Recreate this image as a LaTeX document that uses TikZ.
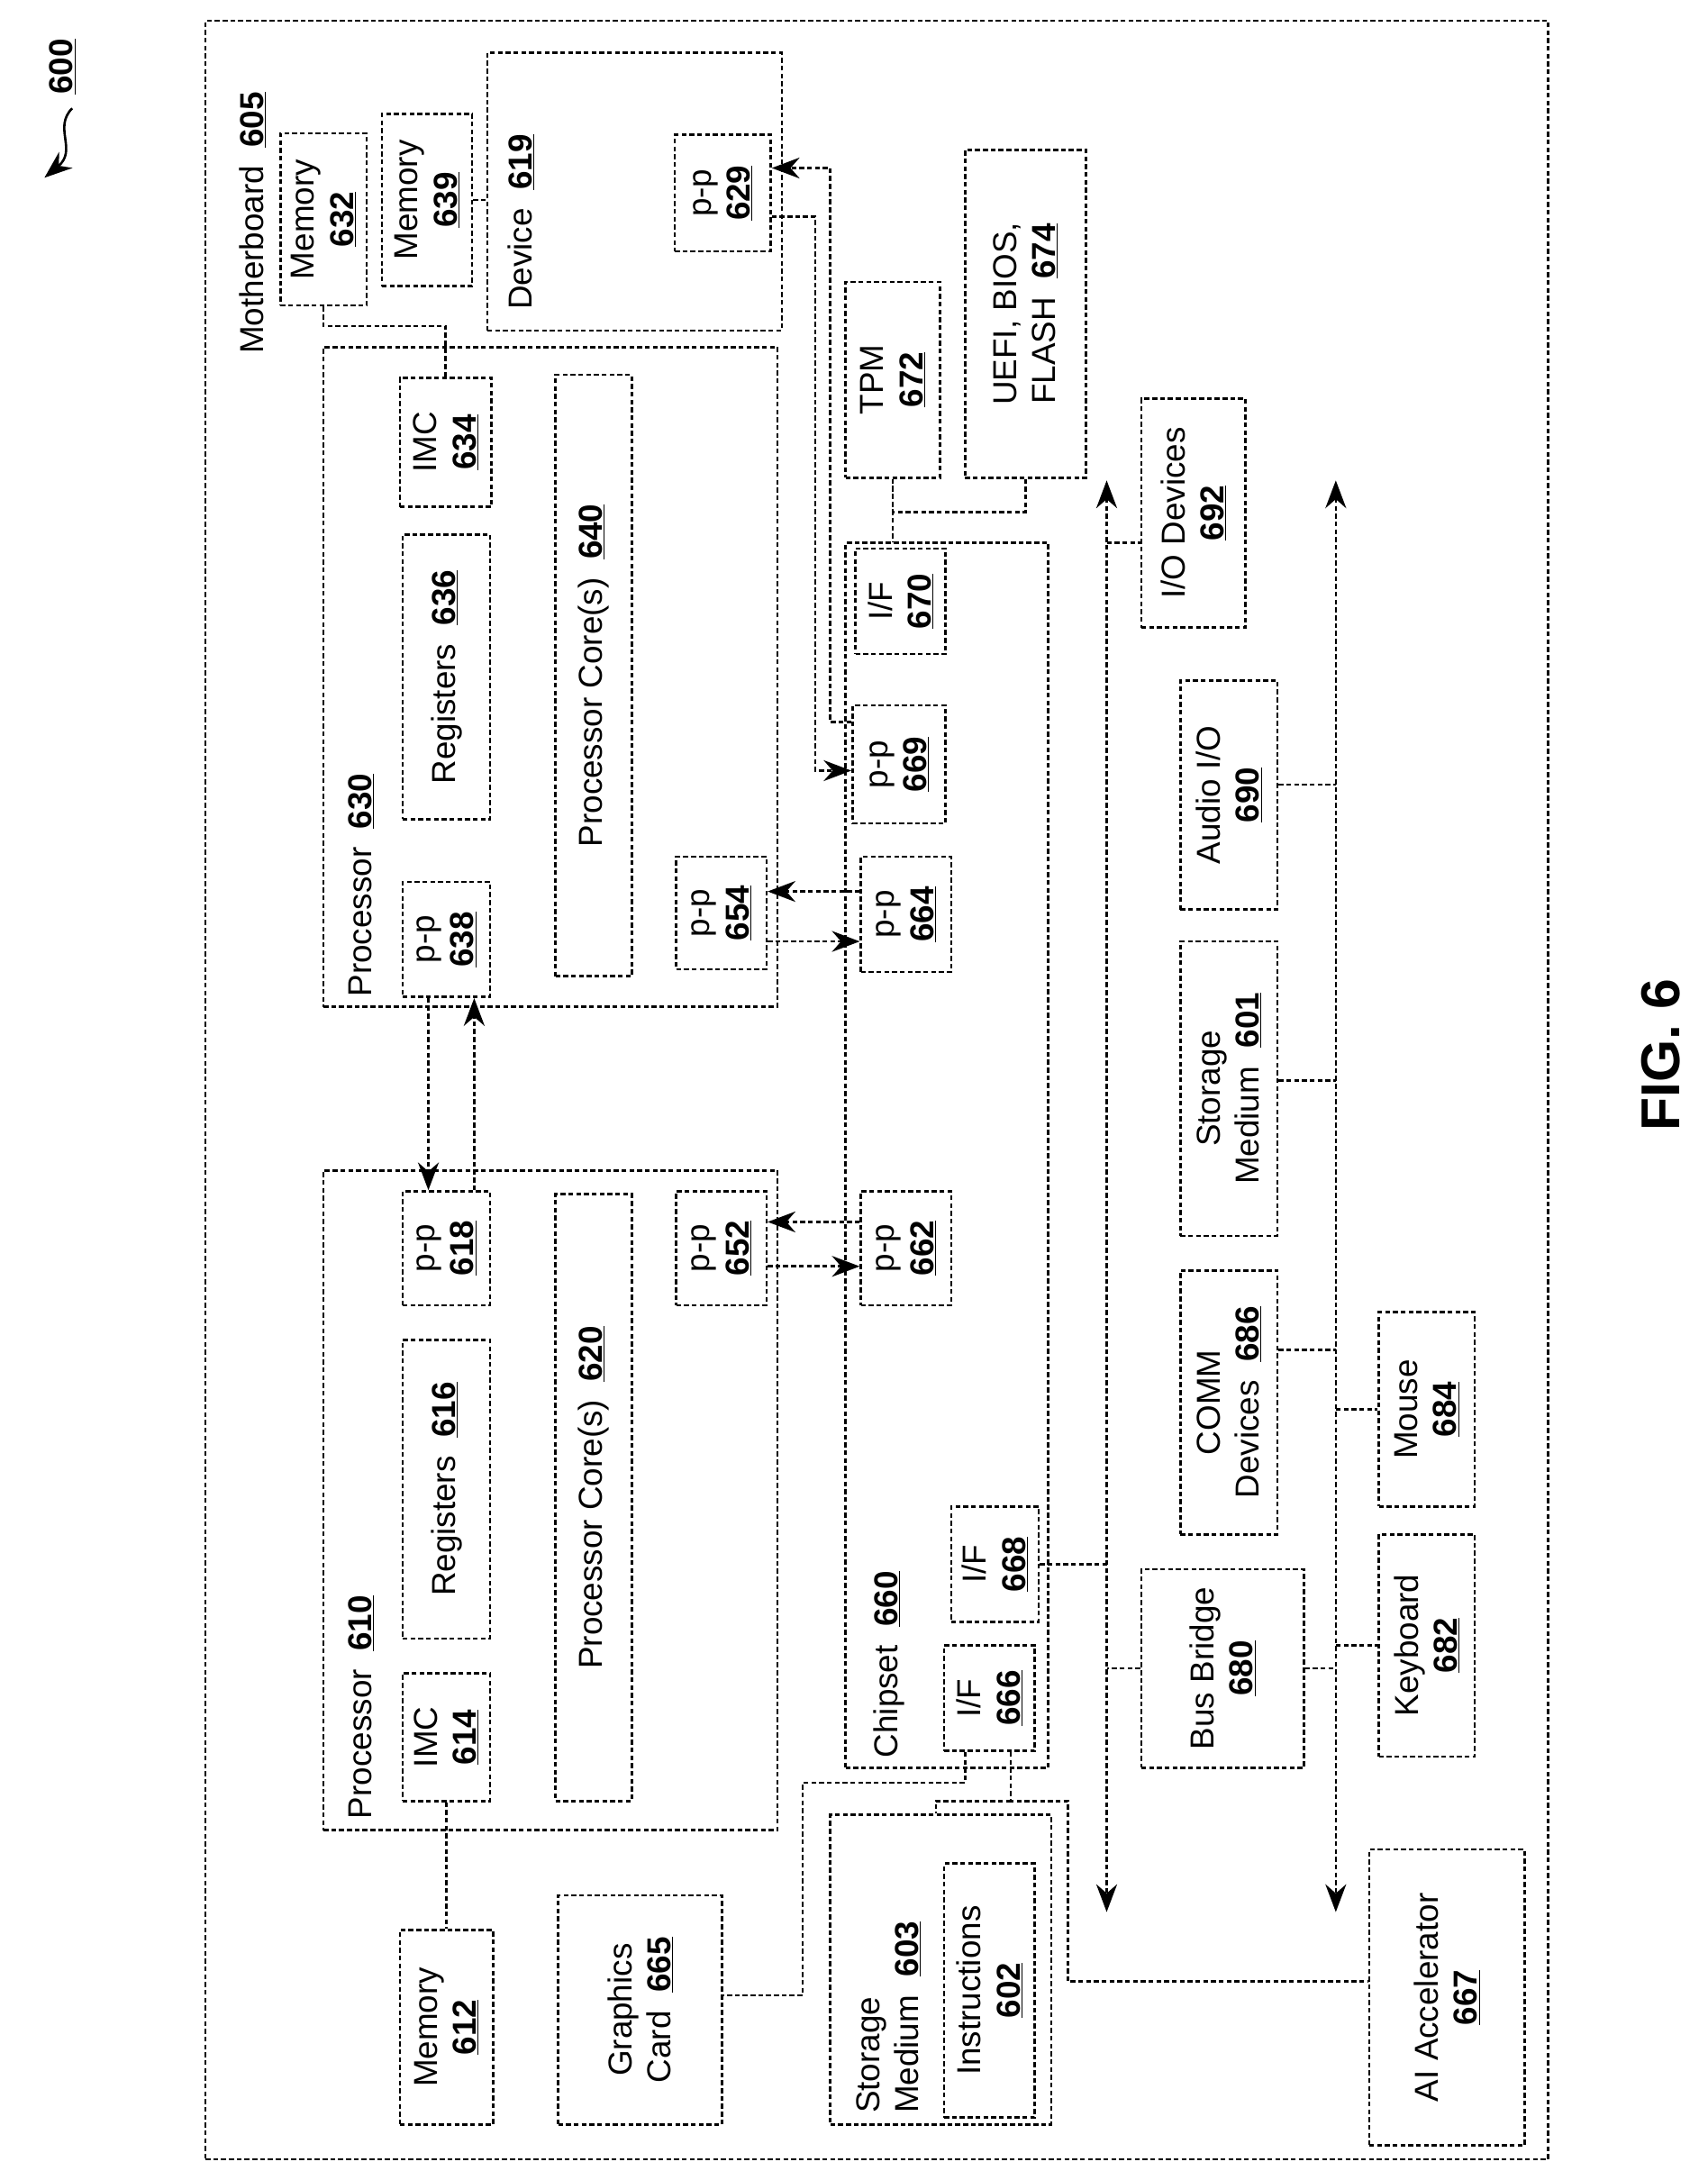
\documentclass[tikz,border=0pt]{standalone}
\usepackage{fontspec}
\setmainfont{Liberation Sans}
\usetikzlibrary{arrows.meta,calc}
\newcommand\un[1]{\underline{\textbf{#1}}}
\tikzset{
  box/.style={draw,dash pattern=on 5pt off 3pt,line width=2.4pt,inner sep=0pt,rectangle},
  conn/.style={draw,dash pattern=on 5pt off 3pt,line width=2.4pt},
  arr/.style={conn,-{Stealth[length=1cm,width=0.75cm]}},
  darr/.style={conn,{Stealth[length=1cm,width=0.75cm]}-{Stealth[length=1cm,width=0.75cm]}},
  txt/.style={rotate=90,align=center,inner sep=0pt,font=\fontsize{34}{40}\selectfont},
  lab/.style={rotate=90,anchor=west,align=left,inner sep=0pt,font=\fontsize{34}{40}\selectfont}
}
\newcommand\bx[6]{\node[box,minimum width={(#4-#2)*0.05cm},minimum height={(#5-#3)*0.05cm}] (#1) at ({(#2+#4)/2},{(#3+#5)/2}) {};}
\newcommand\bt[7]{\bx{#1}{#2}{#3}{#4}{#5}{}\node[txt] at (#1.center) {#6};}
\begin{document}
\begin{tikzpicture}[x=0.05cm,y=-0.05cm]
\useasboundingbox (0,0) rectangle (1230,1570);
\bx{mb}{148}{15}{1115}{1555}{}
\node[lab] (mbl) at (182,255) {Motherboard\ \ \un{605}};
\bt{m632}{202}{96}{264}{220}{Memory\\\un{632}}{}
\bt{m639}{275}{82}{340}{206}{Memory\\\un{639}}{}
\bx{dev619}{351}{38}{563}{238}{}
\node[txt] (devl) at (375,160) {Device\ \ \un{619}};
\bt{pp629}{486}{97}{555}{181}{p-p\\\un{629}}{}
\bx{proc630}{233}{250}{560}{725}{}
\node[lab] (p630l) at (260,718) {Processor\ \ \un{630}};
\bt{imc634}{288}{272}{354}{365}{IMC\\\un{634}}{}
\bt{reg636}{290}{385}{353}{590}{Registers\ \ \un{636}}{}
\bt{pp638}{290}{635}{353}{718}{p-p\\\un{638}}{}
\bt{core640}{400}{270}{455}{703}{Processor Core(s)\ \ \un{640}}{}
\bt{pp654}{487}{617}{552}{698}{p-p\\\un{654}}{}
\bx{proc610}{233}{843}{560}{1318}{}
\node[lab] (p610l) at (260,1310) {Processor\ \ \un{610}};
\bt{imc614}{290}{1205}{353}{1297}{IMC\\\un{614}}{}
\bt{reg616}{290}{965}{353}{1180}{Registers\ \ \un{616}}{}
\bt{pp618}{290}{858}{353}{940}{p-p\\\un{618}}{}
\bt{core620}{400}{860}{455}{1297}{Processor Core(s)\ \ \un{620}}{}
\bt{pp652}{487}{858}{552}{940}{p-p\\\un{652}}{}
\bx{chip660}{609}{391}{755}{1273}{}
\node[lab] (chipl) at (640,1266) {Chipset\ \ \un{660}};
\bt{pp662}{620}{858}{685}{940}{p-p\\\un{662}}{}
\bt{pp664}{620}{617}{685}{700}{p-p\\\un{664}}{}
\bt{pp669}{614}{508}{681}{593}{p-p\\\un{669}}{}
\bt{if670}{616}{395}{681}{471}{I/F\\\un{670}}{}
\bt{if668}{685}{1085}{748}{1168}{I/F\\\un{668}}{}
\bt{if666}{680}{1185}{745}{1261}{I/F\\\un{666}}{}
\bt{tpm672}{609}{203}{677}{344}{TPM\\\un{672}}{}
\bt{uefi674}{695}{108}{782}{344}{UEFI, BIOS,\\FLASH\ \ \un{674}}{}
\bt{io692}{822}{287}{897}{452}{I/O Devices\\\un{692}}{}
\bt{aud690}{850}{490}{920}{655}{Audio I/O\\\un{690}}{}
\bt{sto601}{850}{678}{920}{890}{Storage\\Medium\ \ \un{601}}{}
\bt{comm686}{850}{915}{920}{1105}{COMM\\Devices\ \ \un{686}}{}
\bt{mouse684}{993}{945}{1062}{1085}{Mouse\\\un{684}}{}
\bt{kbd682}{993}{1105}{1062}{1265}{Keyboard\\\un{682}}{}
\bt{bb680}{822}{1130}{939}{1273}{Bus Bridge\\\un{680}}{}
\bt{ai667}{986}{1332}{1098}{1545}{AI Accelerator\\\un{667}}{}
\bt{m612}{288}{1390}{355}{1530}{Memory\\\un{612}}{}
\bt{gfx665}{402}{1365}{520}{1530}{Graphics\\Card\ \ \un{665}}{}
\bx{sto603}{598}{1307}{757}{1530}{}
\node[lab] (sto603l) at (640,1522) {Storage\\Medium\ \ \un{603}};
\bt{ins602}{680}{1342}{745}{1525}{Instructions\\\un{602}}{}
% buses
\coordinate (b1t) at (797,346); \coordinate (b1b) at (797,1377);
\coordinate (b2t) at (962,346); \coordinate (b2b) at (962,1377);
\draw[darr] (b1t) -- (b1b);
\draw[darr] (b2t) -- (b2b);
% memory links
\draw[conn] (m632.south) -- ++(0,14) -| (imc634.north);
\draw[conn] (m639.east) -- (dev619.west |- m639.east);
\draw[conn] (imc614.south) -- (m612.north);
% p-p links
\draw[arr] ($(pp638.south)+(-13,0)$) -- ($(pp618.north)+(-13,0)$);
\draw[arr] ($(pp618.north)+(20,0)$) -- ($(pp638.south)+(20,0)$);
\draw[arr] (pp662.west |- 0,880) -- (pp652.east |- 0,880);
\draw[arr] (pp652.east |- 0,912) -- (pp662.west |- 0,912);
\draw[arr] (pp664.west |- 0,642) -- (pp654.east |- 0,642);
\draw[arr] (pp654.east |- 0,678) -- (pp664.west |- 0,678);
\draw[arr] (pp669.west |- 0,520) -- (598,520) -- (598,121) -- (pp629.east |- 0,121);
\draw[arr] (pp629.east |- 0,156) -- (587,156) -- (587,555) -- (pp669.west |- 0,555);
% TPM / UEFI
\draw[conn] (tpm672.south) -- (tpm672.south |- chip660.north);
\draw[conn] (uefi674.south) -- ++(0,24) -| (tpm672.south);
% bus 1
\draw[conn] (797,391) -- (io692.west |- 0,391);
\draw[conn] (if668.east) -- (b1t |- if668.east);
\draw[conn] (bb680.west) -- (b1t |- bb680.west);
% bus 2
\draw[conn] (bb680.east) -- (b2t |- bb680.east);
\draw[conn] (aud690.east |- 0,565) -- (962,565);
\draw[conn] (sto601.east |- 0,778) -- (962,778);
\draw[conn] (comm686.east |- 0,972) -- (962,972);
\draw[conn] (962,1015) -- (mouse684.west |- 0,1015);
\draw[conn] (962,1185) -- (kbd682.west |- 0,1185);
% I/F 666
\draw[conn] (if666.south -| 695,0) -- (695,1284) -- (578,1284) -- (578,1437) -- (gfx665.east |- 0,1437);
\draw[conn] (if666.south -| 728,0) -- (728,1297) -- (769,1297) -- (769,1427) -- (ai667.west |- 0,1427);
\draw[conn] (728,1297) -- (674,1297) -- (sto603.north -| 674,0);
% 600 and FIG
\node[txt] (n600) at (45,48) {\un{600}};
\draw[line width=2.4pt,-{Stealth[length=1cm,width=0.75cm]}] (52,78) .. controls (38,92) and (56,108) .. (32,128);
\node[txt,font=\fontsize{56}{64}\selectfont\bfseries] (fig) at (1196,760) {FIG. 6};
\end{tikzpicture}
\end{document}
